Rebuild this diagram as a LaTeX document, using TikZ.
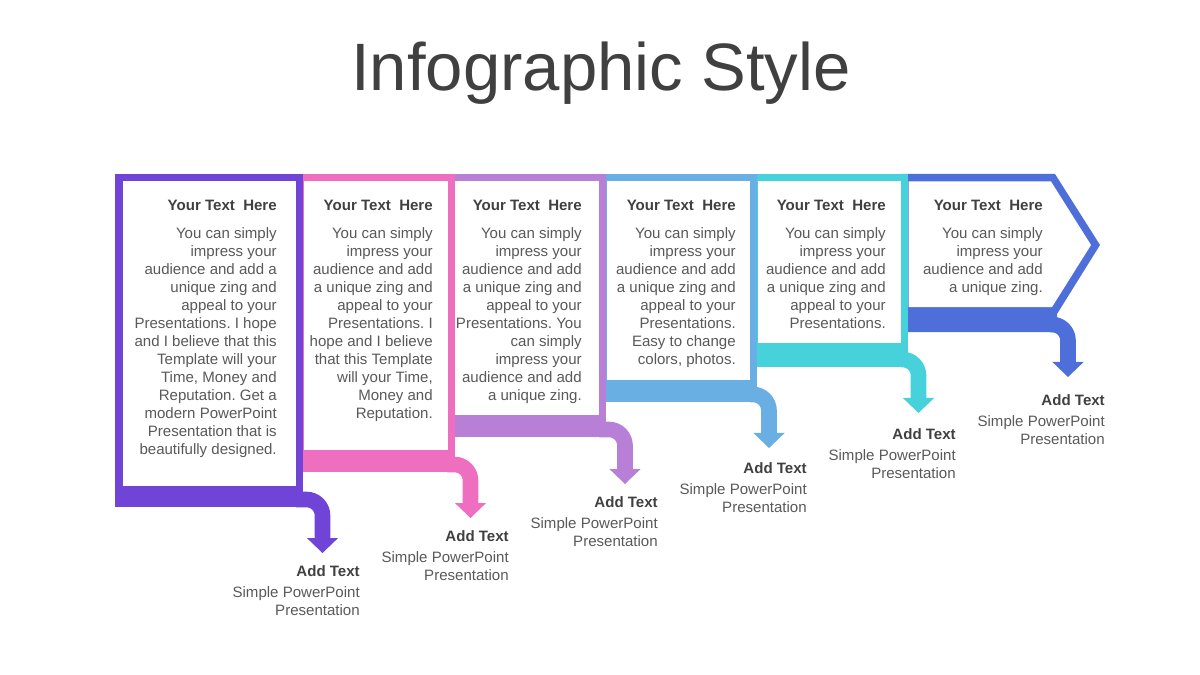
\documentclass[tikz,border=0pt]{standalone}
\usepackage{fontspec}
\setmainfont{Liberation Sans}
\usetikzlibrary{arrows.meta}
\definecolor{cpurple}{RGB}{111,68,214}
\definecolor{cpink}{RGB}{238,110,192}
\definecolor{clilac}{RGB}{183,128,214}
\definecolor{csky}{RGB}{106,175,227}
\definecolor{ccyan}{RGB}{71,209,218}
\definecolor{cblue}{RGB}{78,111,218}
\definecolor{txtdark}{RGB}{64,64,64}
\definecolor{txtgrey}{RGB}{89,89,89}
\frenchspacing
\tikzset{
  head/.style={anchor=base east,inner sep=0pt,font=\fontsize{10.7}{12.8}\selectfont\bfseries,text=txtdark},
  body/.style={anchor=north east,inner sep=0pt,align=right,font=\fontsize{10.7}{12.8}\selectfont,text=txtgrey},
  flow/.style={draw=#1,line width=0.39cm,rounded corners=0.4cm,-{Triangle[width=0.78cm,length=0.375cm,line width=0pt]}},
}
% frame: colour, left, right, white bottom, band bottom
\newcommand{\frm}[5]{\fill[#1] (#2,174) rectangle (#3,#5);
  \fill[white] (#2+7.5,181.5) rectangle (#3-7.5,#4);}

\begin{document}
\begin{tikzpicture}[x=0.025cm,y=-0.025cm]
 \useasboundingbox (0,0) rectangle (1200,675);
 \node[anchor=base,inner sep=0pt,font=\fontsize{47.7}{57}\selectfont,text=txtdark] (title) at (601,91) {Infographic Style};
 % frames, right to left
 \fill[cblue] (901,174) -- (1055,174) -- (1100,245) -- (1057,314) -- (1057,332) -- (901,332) -- cycle;
 \fill[white] (908.5,181.5) -- (1051,181.5) -- (1091,245) -- (1052,307) -- (908.5,307) -- cycle;
 \frm{ccyan}{750}{908}{343}{367}
 \frm{csky}{599}{757}{380}{402}
 \frm{clilac}{447}{606}{415}{437}
 \frm{cpink}{296}{455}{450}{472}
 \frm{cpurple}{115}{303}{486}{507}
 % arrows
 \coordinate (s1) at (296,499.5);  \coordinate (e1) at (322.5,553);
 \coordinate (s2) at (447,464.5);  \coordinate (e2) at (470.5,518);
 \coordinate (s3) at (599,429.5);  \coordinate (e3) at (625,484);
 \coordinate (s4) at (750,394.5);  \coordinate (e4) at (769,448);
 \coordinate (s5) at (901,359.5);  \coordinate (e5) at (918.5,413);
 \coordinate (s6) at (1050,324.5); \coordinate (e6) at (1068,377);
 \draw[flow=cpurple] (s1) -| (e1);
 \draw[flow=cpink] (s2) -| (e2);
 \draw[flow=clilac] (s3) -| (e3);
 \draw[flow=csky] (s4) -| (e4);
 \draw[flow=ccyan] (s5) -| (e5);
 \draw[flow=cblue] (s6) -| (e6);
 % panel texts
 \node[head] (h1) at (277,210.5) {Your Text~ Here};
 \node[body] (b1) at (277,227) {You can simply\\impress your\\audience and add a\\unique zing and\\appeal to your\\Presentations. I hope\\and I believe that this\\Template will your\\Time, Money and\\Reputation. Get a\\modern PowerPoint\\Presentation that is\\beautifully designed.};
 \node[head] (h2) at (433,210.5) {Your Text~ Here};
 \node[body] (b2) at (433,227) {You can simply\\impress your\\audience and add\\a unique zing and\\appeal to your\\Presentations. I\\hope and I believe\\that this Template\\will your Time,\\Money and\\Reputation.};
 \node[head] (h3) at (582,210.5) {Your Text~ Here};
 \node[body] (b3) at (582,227) {You can simply\\impress your\\audience and add\\a unique zing and\\appeal to your\\Presentations. You\\can simply\\impress your\\audience and add\\a unique zing.};
 \node[head] (h4) at (736,210.5) {Your Text~ Here};
 \node[body] (b4) at (736,227) {You can simply\\impress your\\audience and add\\a unique zing and\\appeal to your\\Presentations.\\Easy to change\\colors, photos.};
 \node[head] (h5) at (886,210.5) {Your Text~ Here};
 \node[body] (b5) at (886,227) {You can simply\\impress your\\audience and add\\a unique zing and\\appeal to your\\Presentations.};
 \node[head] (h6) at (1043,210.5) {Your Text~ Here};
 \node[body] (b6) at (1043,227) {You can simply\\impress your\\audience and add\\a unique zing.};
 % bottom labels
 \foreach \i in {1,...,6} {
  \node[head] (a\i) at ({360+149*(\i-1)},{576-34.2*(\i-1)}) {Add Text};
  \node[body] (p\i) at ({360+149*(\i-1)},{586-34.2*(\i-1)}) {Simple PowerPoint\\Presentation};
 }
\end{tikzpicture}
\end{document}
